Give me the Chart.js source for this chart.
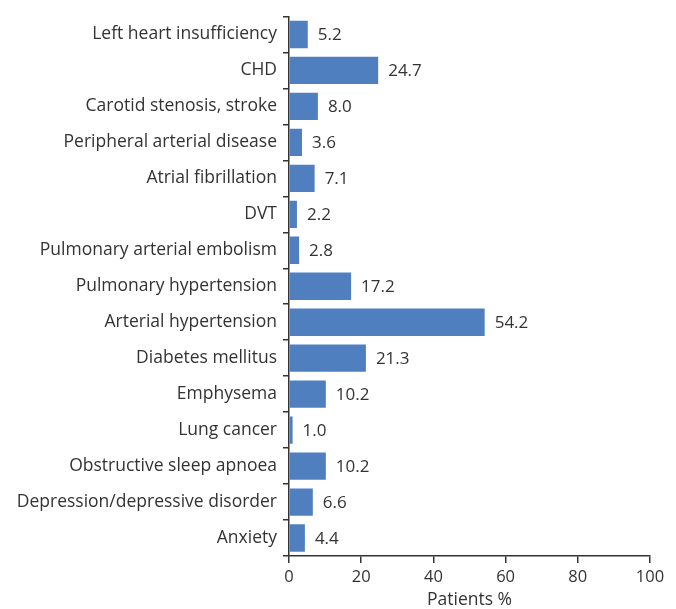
<!DOCTYPE html>
<html>
<head>
<meta charset="utf-8">
<script src="https://cdn.jsdelivr.net/npm/chart.js@4"></script>
<style>
  html, body { margin: 0; padding: 0; background: #fff; }
  #wrap { width: 676px; height: 609px; }
</style>
</head>
<body>
<div id="wrap"><canvas id="chart"></canvas></div>
<script>
const categories = [
    'Left heart insufficiency',
    'CHD',
    'Carotid stenosis, stroke',
    'Peripheral arterial disease',
    'Atrial fibrillation',
    'DVT',
    'Pulmonary arterial embolism',
    'Pulmonary hypertension',
    'Arterial hypertension',
    'Diabetes mellitus',
    'Emphysema',
    'Lung cancer',
    'Obstructive sleep apnoea',
    'Depression/depressive disorder',
    'Anxiety'
];
const patientsPct = [5.2, 24.7, 8.0, 3.6, 7.1, 2.2, 2.8, 17.2, 54.2, 21.3, 10.2, 1.0, 10.2, 6.6, 4.4];
const xTicks = [0, 20, 40, 60, 80, 100];

const textColor = '#333333';
const fontFamily = '"Open Sans", "Noto Sans", sans-serif';

// draws the value next to each bar
const valueLabels = {
    id: 'valueLabels',
    afterDatasetsDraw(chart) {
        const ctx = chart.ctx;
        const meta = chart.getDatasetMeta(0);
        ctx.save();
        ctx.font = '17px ' + fontFamily;
        ctx.fillStyle = textColor;
        ctx.textAlign = 'left';
        ctx.textBaseline = 'middle';
        meta.data.forEach((bar, i) => {
            ctx.fillText(patientsPct[i].toFixed(1), bar.x + 10, bar.y + 1);
        });
        ctx.restore();
    }
};

const config = {
    type: 'bar',
    data: {
        labels: categories,
        datasets: [{
            data: patientsPct,
            backgroundColor: 'rgb(79,127,191)',
            barPercentage: 0.76,
            categoryPercentage: 1.0
        }]
    },
    options: {
        indexAxis: 'y',
        responsive: true,
        maintainAspectRatio: false,
        animation: false,
        layout: { padding: { top: 12, right: 26, left: 0, bottom: 0 } },
        plugins: {
            legend: { display: false },
            tooltip: { enabled: false }
        },
        scales: {
            x: {
                min: 0,
                max: 100,
                afterBuildTicks(axis) {
                    axis.ticks = xTicks.map(v => ({ value: v }));
                },
                afterFit(axis) { axis.height = 53; },
                border: { display: true, color: textColor, width: 1.5 },
                grid: { drawOnChartArea: false, drawTicks: true, tickLength: 7, color: textColor, lineWidth: 1.5 },
                ticks: { color: textColor, font: { family: fontFamily, size: 16.5 }, padding: 4 },
                title: {
                    display: true,
                    text: 'Patients %',
                    color: textColor,
                    font: { family: fontFamily, size: 17.5, lineHeight: 1 },
                    padding: { top: 0, bottom: 0 }
                }
            },
            y: {
                afterFit(axis) { axis.width = 289; },
                border: { display: true, color: textColor, width: 1.5 },
                grid: { offset: true, drawOnChartArea: false, drawTicks: true, tickLength: 6, color: textColor, lineWidth: 1.5 },
                ticks: { color: textColor, font: { family: fontFamily, size: 17.5 }, padding: 6 }
            }
        }
    },
    plugins: [valueLabels]
};

const chart = new Chart(document.getElementById('chart').getContext('2d'), config);
</script>
</body>
</html>
